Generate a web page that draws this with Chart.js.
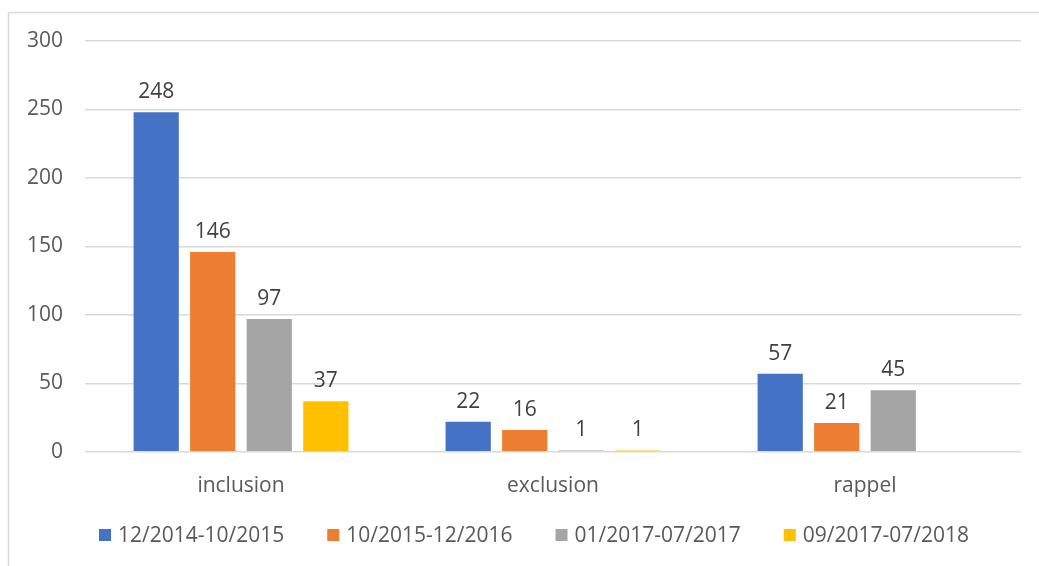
<!DOCTYPE html>
<html>
<head>
<meta charset="utf-8">
<script src="https://cdn.jsdelivr.net/npm/chart.js@4"></script>
<style>
  html, body { margin: 0; padding: 0; background: #fff; }
  #wrap { width: 1039px; height: 566px; position: relative; }
</style>
</head>
<body>
<div id="wrap"><canvas id="graphique"></canvas></div>
<script>
const categories = ["inclusion", "exclusion", "rappel"];
const periodes = ["12/2014-10/2015", "10/2015-12/2016", "01/2017-07/2017", "09/2017-07/2018"];
const serie1 = [248, 22, 57];
const serie2 = [146, 16, 21];
const serie3 = [97, 1, 45];
const serie4 = [37, 1, null];
const couleurs = ["#4472C4", "#ED7D31", "#A5A5A5", "#FFC000"];
const yTicks = [0, 50, 100, 150, 200, 250, 300];

const police = "'Open Sans', 'Liberation Sans', sans-serif";
const taille = 21;

// cadre gris autour du graphique (seulement haut et gauche visibles)
const cadre = {
    id: 'cadre',
    beforeDraw(chart) {
        const ctx = chart.ctx;
        ctx.save();
        ctx.strokeStyle = "#d9d9d9";
        ctx.lineWidth = 1.5;
        ctx.beginPath();
        ctx.moveTo(8.5, 566);
        ctx.lineTo(8.5, 12.5);
        ctx.lineTo(1039, 12.5);
        ctx.stroke();
        ctx.restore();
    }
};

// étiquettes de valeur au-dessus des barres
const etiquettes = {
    id: 'etiquettes',
    afterDatasetsDraw(chart) {
        const ctx = chart.ctx;
        ctx.save();
        ctx.font = taille + "px " + police;
        ctx.fillStyle = "#404040";
        ctx.textAlign = "center";
        ctx.textBaseline = "middle";
        chart.data.datasets.forEach(function (ds, i) {
            chart.getDatasetMeta(i).data.forEach(function (bar, j) {
                const v = ds.data[j];
                if (v === null || v === undefined) return;
                ctx.fillText(String(v), bar.x, bar.y - 20);
            });
        });
        ctx.restore();
    }
};

// légende dessinée sous l'axe
const legende = {
    id: 'legende',
    afterDraw(chart) {
        const ctx = chart.ctx;
        const carre = 12, ecart = 7, espace = 43, yMilieu = 535, xCentre = 534;
        ctx.save();
        ctx.font = taille + "px " + police;
        ctx.textBaseline = "middle";
        ctx.textAlign = "left";
        const items = chart.data.datasets.map(ds => ({
            texte: ds.label, couleur: ds.backgroundColor,
            largeur: carre + ecart + ctx.measureText(ds.label).width
        }));
        const total = items.reduce((s, it) => s + it.largeur, 0) + espace * (items.length - 1);
        let x = xCentre - total / 2;
        items.forEach(function (it) {
            ctx.fillStyle = it.couleur;
            ctx.fillRect(x, yMilieu - carre / 2, carre, carre);
            ctx.fillStyle = "#595959";
            ctx.fillText(it.texte, x + carre + ecart, yMilieu + 1);
            x += it.largeur + espace;
        });
        ctx.restore();
    }
};

const ctx = document.getElementById("graphique").getContext('2d');

new Chart(ctx, {
    type: 'bar',
    data: {
        labels: categories,
        datasets: [serie1, serie2, serie3, serie4].map(function (d, i) {
            return {
                label: periodes[i],
                data: d,
                backgroundColor: couleurs[i],
                borderWidth: 0,
                categoryPercentage: 0.725,
                barPercentage: 0.8
            };
        })
    },
    options: {
        responsive: true,
        maintainAspectRatio: false,
        animation: false,
        layout: { padding: { top: 41, right: 18, left: 0, bottom: 45 } },
        scales: {
            x: {
                grid: { display: false, drawTicks: false },
                border: { display: false },
                ticks: { color: "#595959", font: { family: police, size: taille }, padding: 22 }
            },
            y: {
                min: 0,
                max: 300,
                afterFit: function (s) { s.width = 85; },
                afterBuildTicks: function (s) { s.ticks = yTicks.map(v => ({ value: v })); },
                grid: { color: "#d9d9d9", lineWidth: 1.5, drawTicks: false },
                border: { display: false },
                ticks: { color: "#595959", font: { family: police, size: taille }, padding: 22 }
            }
        },
        plugins: {
            legend: { display: false },
            tooltip: { enabled: false }
        }
    },
    plugins: [cadre, etiquettes, legende]
});
</script>
</body>
</html>
